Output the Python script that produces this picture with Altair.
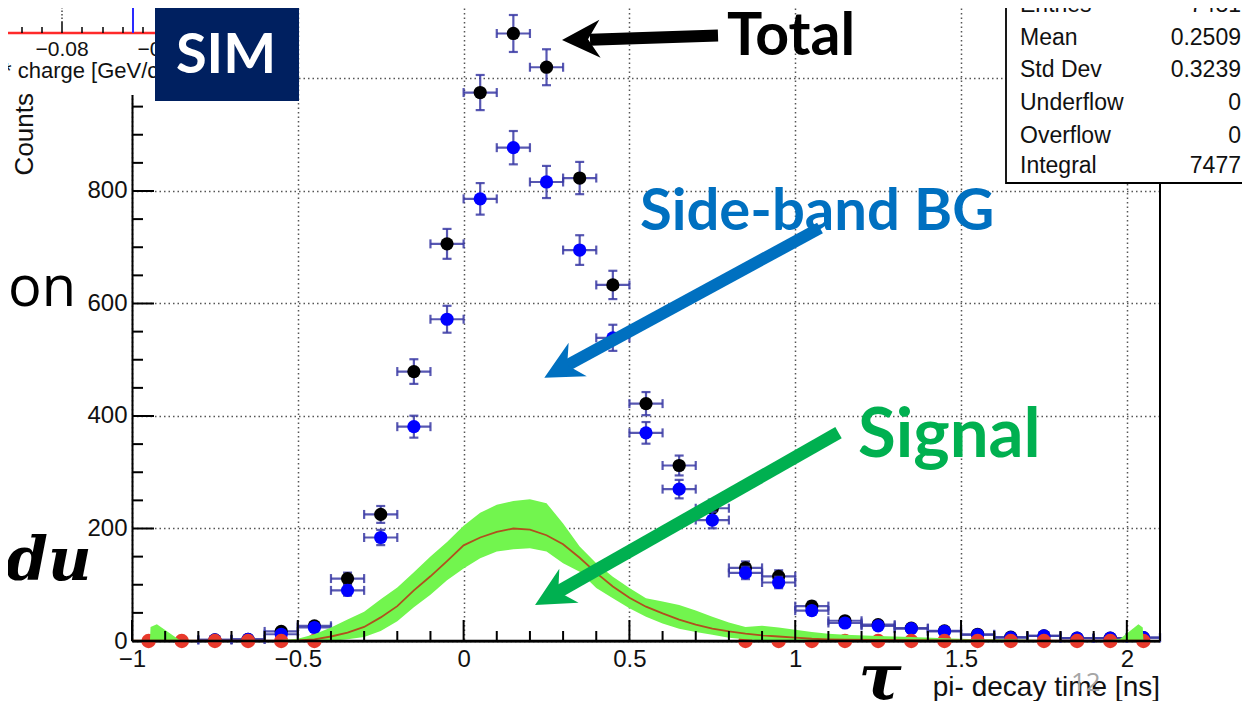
import altair as alt
import pandas as pd

# ---------------- data ----------------
x_centers = [-0.95, -0.85, -0.75, -0.65, -0.55, -0.45, -0.35, -0.25, -0.15, -0.05,
             0.05, 0.15, 0.25, 0.35, 0.45, 0.55, 0.65, 0.75, 0.85, 0.95,
             1.05, 1.15, 1.25, 1.35, 1.45, 1.55, 1.65, 1.75, 1.85, 1.95, 2.05]
total = [None, None, 2, 3, 17, 27, 111, 225, 479, 706,
         975, 1080, 1020, 823, 633, 422, 312, 236, 130, 115,
         62, 36, 29, 23, 18, 12, 7, 9, 5, 5, 6]
side_band = [None, None, 2, 3, 12, 24, 90, 184, 381, 572,
             786, 877, 816, 695, 539, 370, 270, 215, 121, 104,
             54, 32, 27, 22, 17, 11, 6, 9, 5, 5, 6]
signal_zero_x = [-0.95, -0.85, -0.75, -0.65, -0.55, -0.45,
                 0.85, 0.95, 1.05, 1.15, 1.25, 1.35, 1.45, 1.55, 1.65, 1.75, 1.85, 1.95, 2.05]
signal_zero_y = [0] * len(signal_zero_x)

band_x = [-1.0, -0.946, -0.944, -0.925, -0.86, -0.85, -0.7, -0.55, -0.5, -0.45, -0.4, -0.35,
          -0.3, -0.25, -0.2, -0.15, -0.1, -0.05, 0.0, 0.05, 0.1, 0.15, 0.2, 0.25, 0.3, 0.35,
          0.4, 0.45, 0.5, 0.55, 0.6, 0.65, 0.7, 0.75, 0.8, 0.85, 0.9, 0.95, 1.0, 1.05, 1.1,
          1.15, 1.25, 1.35, 1.45, 1.55, 1.65, 1.75, 1.85, 1.95, 1.98, 2.035, 2.048, 2.05]
band_hi = [0, 0, 25, 30, 3, 1, 1, 2, 4, 12, 24, 38,
           52, 74, 95, 122, 150, 176, 205, 228, 242, 249, 252, 245, 209, 168,
           138, 114, 94, 76, 70, 64, 54, 43, 33, 25, 27, 24, 20, 16, 13,
           11, 9, 7, 5, 3, 3, 2, 2, 2, 4, 30, 24, 0]
band_lo = [0, 0, 0, 0, 0, 0, 0, 0, 0, 0, 0, 3,
           7, 18, 35, 60, 82, 108, 129, 147, 159, 163, 165, 159, 138, 123,
           94, 76, 58, 43, 31, 22, 16, 11, 6, 3, 1, 0, 0, 0, 0,
           0, 0, 0, 0, 0, 0, 0, 0, 0, 0, 0, 0, 0]
band_mid = [0.5, 0.5, 0.5, 0.5, 0.5, 0.5, 0.5, 0.5, 1, 3, 8, 15,
            25, 42, 62, 90, 115, 142, 170, 184, 194, 200, 198, 188, 172, 148,
            121, 97, 77, 61, 49, 38, 29, 22, 17, 13, 10, 8, 6, 4, 3,
            2.5, 2, 1.5, 1, 1, 0.8, 0.6, 0.5, 0.5, 0.5, 0.5, 0.5, 0.5]

x_major = [-1, -0.5, 0, 0.5, 1, 1.5, 2]
x_minor = [round(-1 + 0.1 * i, 2) for i in range(31) if i % 5 != 0]
y_major = [0, 200, 400, 600, 800, 1000]
y_minor = [v for v in range(50, 1101, 50) if v % 200 != 0]

stat_labels = ["Entries", "Mean", "Std Dev", "Underflow", "Overflow", "Integral"]
stat_values = ["7481", "0.2509", "0.3239", "0", "0", "7477"]

# ---------------- layout ----------------
W, H = 1028, 633
xs = alt.Scale(domain=[-1.0, 2.1], nice=False, zero=False)
ys = alt.Scale(domain=[0, 1125.3], nice=False, zero=False)
EC = "#3a3aa4"
ONE = pd.DataFrame({"a": [0]})


def hist_df(vals):
    rows = []
    for xc, v in zip(x_centers, vals):
        if v is None:
            continue
        e = v ** 0.5
        rows.append(dict(x=xc, y=v, ylo=v - e, yhi=v + e, xlo=xc - 0.05, xhi=xc + 0.05))
    return pd.DataFrame(rows)


def X(f):
    return alt.X(f, type="quantitative", scale=xs, title=None)


def Y(f):
    return alt.Y(f, type="quantitative", scale=ys, title=None)


def hist_layers(df, color):
    b = alt.Chart(df)
    return [
        b.mark_rule(color=EC, strokeWidth=2.2, opacity=0.85).encode(x=X("x"), y=Y("ylo"), y2="yhi"),
        b.mark_rule(color=EC, strokeWidth=2.2, opacity=0.85).encode(x=X("xlo"), x2="xhi", y=Y("y")),
        b.mark_tick(orient="horizontal", size=9, thickness=2.2, color=EC, opacity=0.85).encode(x=X("x"), y=Y("yhi")),
        b.mark_tick(orient="horizontal", size=9, thickness=2.2, color=EC, opacity=0.85).encode(x=X("x"), y=Y("ylo")),
        b.mark_tick(orient="vertical", size=9, thickness=2.2, color=EC, opacity=0.85).encode(x=X("xlo"), y=Y("y")),
        b.mark_tick(orient="vertical", size=9, thickness=2.2, color=EC, opacity=0.85).encode(x=X("xhi"), y=Y("y")),
        b.mark_circle(size=175, color=color, opacity=1).encode(x=X("x"), y=Y("y")),
    ]


def txt(t, x, y, **kw):
    return alt.Chart(ONE).mark_text(text=t, **kw).encode(x=alt.value(x), y=alt.value(y))


def rule(x1, y1, x2, y2, **kw):
    return alt.Chart(ONE).mark_rule(**kw).encode(
        x=alt.value(x1), y=alt.value(y1), x2=alt.value(x2), y2=alt.value(y2))


def box(x1, y1, x2, y2, **kw):
    return alt.Chart(ONE).mark_rect(**kw).encode(
        x=alt.value(x1), y=alt.value(y1), x2=alt.value(x2), y2=alt.value(y2))


HEAD = "M -1 0 L 1 -1 L 0.37 0 L 1 1 Z"


def head(x, y, size, angle, color):
    return alt.Chart(ONE).mark_point(shape=HEAD, filled=True, size=size, angle=angle,
                                     color=color, opacity=1, strokeWidth=0).encode(
        x=alt.value(x), y=alt.value(y))


layers = []

# axis-carrying layer (invisible)
axis_df = pd.DataFrame({"x": [-1.0, 2.1], "y": [0, 1125.3]})
layers.append(alt.Chart(axis_df).mark_point(opacity=0).encode(
    x=alt.X("x:Q", scale=xs, title=None,
            axis=alt.Axis(values=x_major, labelPadding=6, labelFlush=False, labelOverlap=False,
                          labelExpr="format(datum.value, '~g')")),
    y=alt.Y("y:Q", scale=ys, title=None,
            axis=alt.Axis(values=y_major, labelPadding=5, labelFlush=False, labelOverlap=False))))

layers += hist_layers(hist_df(total), "#000000")
layers += hist_layers(hist_df(side_band), "#0000ff")

red_df = pd.DataFrame({"x": signal_zero_x, "y": signal_zero_y})
layers.append(alt.Chart(red_df).mark_circle(size=210, color="#e8392b", opacity=1).encode(x=X("x"), y=Y("y")))

band_df = pd.DataFrame({"x": band_x, "lo": band_lo, "hi": band_hi, "mid": band_mid})
layers.append(alt.Chart(band_df).mark_area(color="#72f54e", opacity=1, interpolate="linear").encode(
    x=X("x"), y=Y("hi"), y2="lo"))
layers.append(alt.Chart(band_df).mark_line(color="#b0501e", strokeWidth=1.8).encode(x=X("x"), y=Y("mid")))

# inward ticks (ROOT style) and frame
layers.append(alt.Chart(pd.DataFrame({"v": x_major})).mark_rule(color="black", strokeWidth=2).encode(
    x=X("v"), y=alt.value(H), y2=alt.value(H - 21)))
layers.append(alt.Chart(pd.DataFrame({"v": x_minor})).mark_rule(color="black", strokeWidth=2).encode(
    x=X("v"), y=alt.value(H), y2=alt.value(H - 10)))
layers.append(alt.Chart(pd.DataFrame({"v": y_major})).mark_rule(color="black", strokeWidth=2).encode(
    y=Y("v"), x=alt.value(0), x2=alt.value(22)))
layers.append(alt.Chart(pd.DataFrame({"v": y_minor})).mark_rule(color="black", strokeWidth=2).encode(
    y=Y("v"), x=alt.value(0), x2=alt.value(11)))
layers.append(rule(0, H, W, H, color="black", strokeWidth=2.5))
layers.append(rule(W, 0, W, H, color="black", strokeWidth=2))

# pasted fragment of another plot (top-left)
layers.append(box(-140, -20, 23, 87, fill="white", strokeWidth=0))
layers.append(rule(-140, 25, 23, 25, color="#ff2a2a", strokeWidth=2.5))
for tx in [-127, -110, -90, -50, -29, -9, 11]:
    layers.append(rule(tx, 19, tx, 25, color="black", strokeWidth=1.5))
layers.append(rule(-70, 14, -70, 25, color="black", strokeWidth=1.5))
layers.append(rule(-70, -8, -70, 14, color="#444", strokeWidth=1.5, strokeDash=[1.5, 2]))
layers.append(rule(-9, -8, -9, -3, color="#2a2aff", strokeWidth=2))
layers.append(rule(-9, -3, 1, -3, color="#2a2aff", strokeWidth=2))
layers.append(rule(1, -3, 1, 25, color="#2a2aff", strokeWidth=2))
layers.append(txt("\u22120.08", -70, 48, font="Liberation Sans", fontSize=21, align="center", baseline="alphabetic", color="#111"))
layers.append(txt("\u22120.06", 32, 48, font="Liberation Sans", fontSize=21, align="center", baseline="alphabetic", color="#111"))
layers.append(txt("* charge [GeV/c]", -129, 70, font="Liberation Sans", fontSize=22, align="left", baseline="alphabetic", color="#111"))

# axis titles
layers.append(txt("Counts", -99, 85, font="Liberation Sans", fontSize=26, angle=270, align="right", baseline="alphabetic", color="#111"))
layers.append(txt("pi- decay time [ns]", W, 688, font="Liberation Sans", fontSize=28, align="right", baseline="alphabetic", color="#111"))

# slide overlays
layers.append(box(23, -3, 167, 93, fill="#002060", strokeWidth=0))
layers.append(txt("SIM", 94, 65, font="Lato", fontWeight="bold", fontSize=56, align="center", baseline="alphabetic", color="white"))
layers.append(txt("on", -124, 298, font="Open Sans", fontSize=56, align="left", baseline="alphabetic", color="black"))
layers.append(txt("du", -126, 572, font="DejaVu Serif", fontWeight="bold", fontStyle="italic", fontSize=60, align="left", baseline="alphabetic", color="black"))
layers.append(txt("\u03c4", 748, 691, font="DejaVu Serif", fontWeight="bold", fontStyle="italic", fontSize=64, align="center", baseline="alphabetic", color="black"))
layers.append(txt("12", 939, 683, font="Open Sans", fontSize=26, align="left", baseline="alphabetic", color="#a6a6a6"))

# stats box
layers.append(box(874, -20, 1130, 175, fill="white", stroke="black", strokeWidth=1.8))
for i, (lab, val) in enumerate(zip(stat_labels, stat_values)):
    by = [4, 37, 69, 102, 135, 165][i]
    layers.append(txt(lab, 888, by, font="Liberation Sans", fontSize=23, align="left", baseline="alphabetic", color="#111"))
    layers.append(txt(val, 1109, by, font="Liberation Sans", fontSize=23, align="right", baseline="alphabetic", color="#111"))

# annotations with arrows
layers.append(txt("Total", 595, 47, font="Lato", fontWeight="bold", fontSize=59, align="left", baseline="alphabetic", color="black"))
layers.append(rule(458, 31.7, 586, 27.5, color="black", strokeWidth=12))
layers.append(head(449, 31.4, 1444, 358.1, "black"))

layers.append(txt("Side-band BG", 508, 222, font="Lato", fontWeight="bold", fontSize=58, align="left", baseline="alphabetic", color="#0070c0"))
layers.append(rule(431.6, 359.2, 688, 220, color="#0070c0", strokeWidth=12))
layers.append(head(429, 360.6, 1444, 331.5, "#0070c0"))

layers.append(txt("Signal", 726, 449, font="Lato", fontWeight="bold", fontSize=69, align="left", baseline="alphabetic", color="#00b050"))
layers.append(rule(422.1, 586.1, 706.5, 424.7, color="#00b050", strokeWidth=13))
layers.append(head(420, 587.4, 1521, 330.4, "#00b050"))

chart = alt.layer(*layers).properties(
    width=W, height=H,
    autosize=alt.AutoSizeParams(type="none"),
    padding={"left": 124, "top": 0, "right": 82, "bottom": 60},
    background="white",
).configure_view(strokeWidth=0).configure_axis(
    domainColor="black", domainWidth=2, grid=True, gridColor="#555", gridDash=[1.5, 3],
    gridWidth=1.5, ticks=False, tickSize=0, labelFont="Liberation Sans", labelFontSize=24,
    labelColor="#111",
)

chart.save("out.html", embed_options={"renderer": "svg", "actions": False})
